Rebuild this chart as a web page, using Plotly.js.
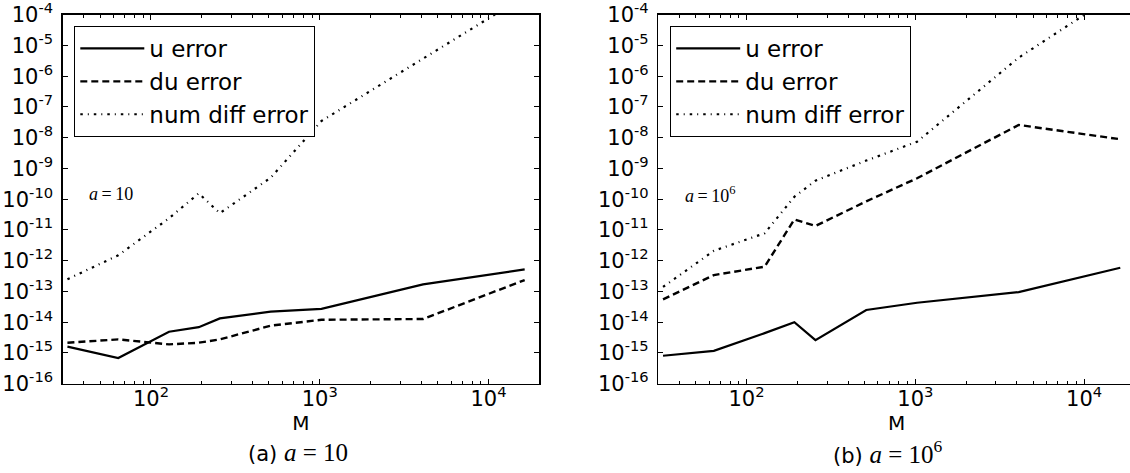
<!DOCTYPE html>
<html>
<head>
<meta charset="utf-8">
<script src="https://cdn.plot.ly/plotly-3.0.1.min.js"></script>
<style>
html,body{margin:0;padding:0;overflow:hidden;background:#fff;}
#chart{width:1140px;height:473px;}
</style>
</head>
<body>
<div id="chart"></div>
<script>
// ---- data ----
const M = [32, 64, 128, 192, 256, 512, 1024, 4096, 16384];

// panel (a): a = 10
const uErrA   = [1.6e-15, 6.8e-16, 4.9e-15, 6.9e-15, 1.33e-14, 2.2e-14, 2.7e-14, 1.7e-13, 5.2e-13];
const duErrA  = [2.15e-15, 2.76e-15, 1.9e-15, 2.15e-15, 2.76e-15, 7.7e-15, 1.2e-14, 1.27e-14, 2.35e-13];
const numErrA = [2.5e-13, 1.5e-12, 2.4e-11, 1.55e-10, 3.5e-11, 5e-10, 3.5e-8, 3.7e-6, 4e-4];

// panel (b): a = 10^6
const uErrB   = [8.1e-16, 1.17e-15, 4.4e-15, 1.0e-14, 2.6e-15, 2.5e-14, 4.3e-14, 9.5e-14, 5.9e-13];
const duErrB  = [5.5e-14, 3.4e-13, 6.4e-13, 2.2e-11, 1.35e-11, 8.5e-11, 4.8e-10, 2.6e-8, 8.9e-9];
const numErrB = [1.4e-13, 2.1e-12, 7.8e-12, 1.2e-10, 4e-10, 1.8e-9, 7.4e-9, 4e-6, 5.8e-4];

const seriesNames = ['u error', 'du error', 'num diff error'];

// tick labels
const yExps = [-16, -15, -14, -13, -12, -11, -10, -9, -8, -7, -6, -5, -4];
const yTickText = ['10<sup>-16</sup>','10<sup>-15</sup>','10<sup>-14</sup>','10<sup>-13</sup>','10<sup>-12</sup>','10<sup>-11</sup>','10<sup>-10</sup>','10<sup>-9</sup>','10<sup>-8</sup>','10<sup>-7</sup>','10<sup>-6</sup>','10<sup>-5</sup>','10<sup>-4</sup>'];
const xTickVals = [100, 1000, 10000];
const xTickText = ['10<sup>2</sup>', '10<sup>3</sup>', '10<sup>4</sup>'];
const xRange = [30, 20000];
const yRange = [1e-16, 1e-4];

const captionA = '(a) <span style="font-family:Liberation Serif;font-size:25px"><i>a</i> = 10</span>';
const captionB = '(b) <span style="font-family:Liberation Serif;font-size:25px"><i>a</i> = 10<sup>6</sup></span>';
const labelA = '<i>a</i>\u2009=\u200910';
const labelB = '<i>a</i>\u2009=\u200910<sup>6</sup>';

// ---- styling ----
const FONT = 'DejaVu Sans, sans-serif';
const dashes = ['solid', '7px,4px', '2.5px,5px,1px,5px'];
const widths = [2.2, 2.4, 2.2];

const yTickVals = yExps.map(e => Math.pow(10, e));
const minorX = [];
for (let d = 1; d <= 4; d++) {
  for (let k = 2; k <= 9; k++) {
    const v = k * Math.pow(10, d);
    if (v > xRange[0] && v < xRange[1]) minorX.push(v);
  }
}

function makeTraces(ys, xa, ya, legendId) {
  return ys.map((y, i) => ({
    x: M, y: y, xaxis: xa, yaxis: ya,
    type: 'scatter', mode: 'lines',
    name: seriesNames[i],
    legend: legendId,
    legendgroup: legendId + i,
    line: {color: 'black', width: widths[i], dash: dashes[i]},
    hoverinfo: 'skip'
  }));
}

const traces = [].concat(
  makeTraces([uErrA, duErrA, numErrA], 'x', 'y', 'legend'),
  makeTraces([uErrB, duErrB, numErrB], 'x2', 'y2', 'legend2')
);

const W = 1140, H = 473;
function xAxis(domain, anchor) {
  return {
    domain: domain, anchor: anchor, type: 'log',
    range: [Math.log10(xRange[0]), Math.log10(xRange[1])],
    tickmode: 'array', tickvals: xTickVals, ticktext: xTickText,
    ticks: 'inside', ticklen: 5, tickwidth: 1, tickcolor: 'black',
    minor: {tickmode: 'array', tickvals: minorX, ticks: 'inside', ticklen: 3, tickwidth: 1, tickcolor: 'black', showgrid: false},
    showline: true, linecolor: 'black', linewidth: 1.4, mirror: 'ticks',
    showgrid: false, zeroline: false,
    tickfont: {family: FONT, size: 21, color: 'black'},
    ticklabelstandoff: -4, ticklabeloverflow: 'allow',
    title: {text: 'M', font: {family: FONT, size: 20, color: 'black'}, standoff: 0}
  };
}
function yAxis(anchor) {
  return {
    domain: [1 - 383.7 / H, 1 - 14.7 / H], anchor: anchor, type: 'log',
    range: [Math.log10(yRange[0]), Math.log10(yRange[1])],
    tickmode: 'array', tickvals: yTickVals, ticktext: yTickText,
    ticks: 'inside', ticklen: 5, tickwidth: 1, tickcolor: 'black',
    showline: true, linecolor: 'black', linewidth: 1.4, mirror: 'ticks',
    showgrid: false, zeroline: false,
    tickfont: {family: FONT, size: 21, color: 'black'},
    ticklabelstandoff: 4, ticklabeloverflow: 'allow'
  };
}

const legendBase = {
  yref: 'paper', xref: 'paper', xanchor: 'left', yanchor: 'top',
  bgcolor: 'white', bordercolor: 'black', borderwidth: 1,
  font: {family: FONT, size: 23, color: 'black'},
  traceorder: 'grouped', tracegroupgap: 0, itemwidth: 64
};

const layout = {
  width: W, height: H,
  margin: {l: 0, r: 0, t: 0, b: 0},
  paper_bgcolor: 'white', plot_bgcolor: 'white',
  showlegend: true,
  xaxis: xAxis([62.7 / W, 539.3 / W], 'y'),
  yaxis: yAxis('x'),
  xaxis2: xAxis([658.3 / W, 1134.9 / W], 'y2'),
  yaxis2: yAxis('x2'),
  legend: Object.assign({}, legendBase, {x: 74.3 / W, y: 1 - 26 / H}),
  legend2: Object.assign({}, legendBase, {x: 670.2 / W, y: 1 - 26 / H}),
  annotations: [
    {xref: 'paper', yref: 'paper', x: 87 / W, y: 1 - 194 / H, xanchor: 'left', yanchor: 'middle',
     text: labelA, showarrow: false, font: {family: 'Liberation Serif, serif', size: 18, color: 'black'}},
    {xref: 'paper', yref: 'paper', x: 683 / W, y: 1 - 194 / H, xanchor: 'left', yanchor: 'middle',
     text: labelB, showarrow: false, font: {family: 'Liberation Serif, serif', size: 18, color: 'black'}},
    {xref: 'paper', yref: 'paper', x: 298 / W, y: 1 - 452 / H, xanchor: 'center', yanchor: 'middle',
     text: captionA, showarrow: false, font: {family: FONT, size: 21, color: 'black'}},
    {xref: 'paper', yref: 'paper', x: 888 / W, y: 1 - 452 / H, xanchor: 'center', yanchor: 'middle',
     text: captionB, showarrow: false, font: {family: FONT, size: 21, color: 'black'}}
  ]
};

Plotly.newPlot('chart', traces, layout, {staticPlot: true, displayModeBar: false});
</script>
</body>
</html>
